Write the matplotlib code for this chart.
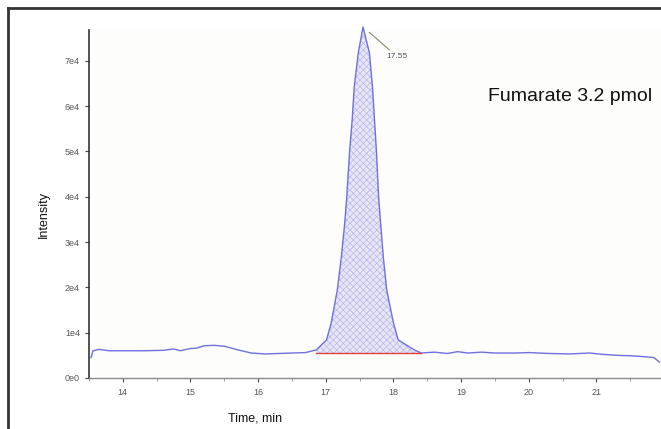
import matplotlib.pyplot as plt
from matplotlib.lines import Line2D
import numpy as np

plt.rcParams['font.family'] = ['Liberation Sans', 'DejaVu Sans']
plt.rcParams['hatch.linewidth'] = 0.5

# chromatogram trace (time in min, intensity in counts)
tempo = [13.53, 13.56, 13.65, 13.8, 14.0, 14.3, 14.6, 14.75, 14.85, 15.0, 15.1,
         15.2, 15.35, 15.5, 15.7, 15.9, 16.1, 16.3, 16.5, 16.7, 16.86,
         17.01, 17.08, 17.17, 17.23, 17.28, 17.31, 17.35, 17.39, 17.42, 17.48,
         17.55,
         17.645, 17.69, 17.72, 17.75, 17.78, 17.81, 17.85, 17.90, 18.00, 18.07,
         18.31, 18.41, 18.6, 18.8, 18.95, 19.1, 19.3, 19.5, 19.8, 20.0, 20.3,
         20.6, 20.9, 21.1, 21.3, 21.5, 21.7, 21.85, 21.93]
intensidade = [4500, 6000, 6300, 6000, 6000, 6000, 6100, 6400, 6000, 6500, 6600,
               7100, 7200, 7000, 6200, 5500, 5300, 5400, 5500, 5600, 6180,
               8390, 12140, 19430, 26710, 34220, 39960, 49670, 56950, 64240, 71740,
               77480,
               71740, 64240, 56950, 49670, 39960, 34220, 26710, 19430, 12140, 8390,
               6180, 5500, 5700, 5400, 5800, 5500, 5700, 5500, 5500, 5600, 5400,
               5300, 5500, 5200, 5000, 4900, 4700, 4500, 3500]

pico_inicio = 16.85
pico_fim = 18.41
linha_base = 5500
rotulo_pico = '17.55'
titulo = 'Fumarate 3.2 pmol'

y_ticks = [0, 10000, 20000, 30000, 40000, 50000, 60000, 70000]
y_labels = ['0e0', '1e4', '2e4', '3e4', '4e4', '5e4', '6e4', '7e4']
x_ticks = [14, 15, 16, 17, 18, 19, 20, 21]

t = np.array(tempo)
y = np.array(intensidade)

fig = plt.figure(figsize=(6.61, 4.29), dpi=100)
ax = fig.add_axes([0.1346, 0.119, 0.865, 0.811])
ax.set_facecolor('#fdfdfb')

# area do pico
m = (t >= pico_inicio) & (t <= pico_fim)
ax.fill_between(t[m], linha_base, y[m], facecolor='#e6e6f7', edgecolor='#b8b8e8',
                hatch='xxxxx', linewidth=0)
ax.plot(t, y, color='#6f6fe0', linewidth=1.0, clip_on=False)
ax.plot([pico_inicio, pico_fim], [linha_base, linha_base], color='#e04040', linewidth=1.0)

# rotulo do pico
ax.annotate(rotulo_pico, xy=(17.55, 77480), xytext=(18.05, 71000),
            fontsize=6, color='#555555', va='center', ha='center',
            annotation_clip=False,
            arrowprops=dict(arrowstyle='-', color='#8a8a6a', lw=0.8, shrinkA=0, shrinkB=6))

ax.set_xlim(13.53, 21.95)
ax.set_ylim(0, 76800)
ax.set_yticks(y_ticks)
ax.set_yticklabels(y_labels)
ax.set_xticks(x_ticks)
ax.set_xticks(np.arange(13.5, 22.0, 0.5), minor=True)
ax.tick_params(axis='both', labelsize=6.5, labelcolor='#555555', color='#444444',
               length=3, width=0.8)
ax.tick_params(axis='x', pad=4)
ax.tick_params(axis='x', which='minor', length=2, color='#888888')
ax.tick_params(axis='y', which='minor', left=False)

for lado in ['top', 'right']:
    ax.spines[lado].set_visible(False)
ax.spines['left'].set_color('#333333')
ax.spines['left'].set_linewidth(1.2)
ax.spines['bottom'].set_color('#888888')
ax.spines['bottom'].set_linewidth(1.0)

ax.set_xlabel('Time, min', fontsize=9, color='#111111')
ax.set_ylabel('Intensity', fontsize=9, color='#111111')
ax.xaxis.set_label_coords(0.29, -0.10)
ax.yaxis.set_label_coords(-0.068, 0.47)

ax.text(0.985, 0.81, titulo, transform=ax.transAxes, fontsize=14, ha='right',
        va='center', color='#111111')

# moldura externa
fig.add_artist(Line2D([0.0128, 0.0128], [0, 0.981], transform=fig.transFigure,
                      color='#333333', linewidth=2))
fig.add_artist(Line2D([0.0128, 1.0], [0.981, 0.981], transform=fig.transFigure,
                      color='#333333', linewidth=2))

plt.savefig('out.png', dpi=100)
